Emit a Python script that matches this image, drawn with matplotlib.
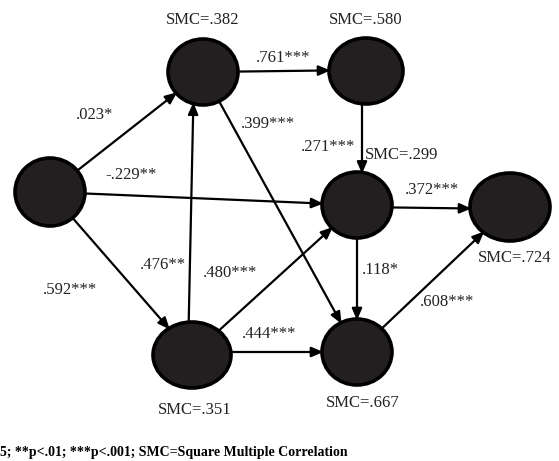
import matplotlib.pyplot as plt
from matplotlib.patches import Ellipse

plt.rcParams['font.family'] = ['Liberation Serif', 'DejaVu Serif']

# nodes and their squared multiple correlations (None = exogenous)
nodes = ['A', 'B', 'C', 'D', 'E', 'F', 'G']
smc = [None, '.382', '.580', '.299', '.724', '.351', '.667']

# paths: source, target, coefficient, significance stars
src = ['A', 'A', 'A', 'B', 'B', 'F', 'F', 'F', 'C', 'D', 'D', 'G']
dst = ['B', 'D', 'F', 'C', 'G', 'B', 'D', 'G', 'D', 'E', 'G', 'E']
coef = ['.023', '-.229', '.592', '.761', '.399', '.476', '.480', '.444',
        '.271', '.372', '.118', '.608']
stars = ['*', '**', '***', '***', '***', '**', '***', '***',
         '***', '***', '*', '***']

# layout (pixels)
pos = {'A': (50, 192), 'B': (203, 72), 'C': (366, 71), 'D': (357, 205),
       'E': (510, 207), 'F': (192, 355), 'G': (357, 352)}
rad = {'A': (35, 34), 'B': (35, 33), 'C': (37, 33), 'D': (35, 33),
       'E': (40, 34), 'F': (39, 33), 'G': (35, 33)}
# anchor shifts so some paths run straight across/down
shift_a = {('C', 'D'): (-4, 0), ('F', 'B'): (-4, 0), ('D', 'E'): (0, 2),
           ('F', 'G'): (0, -3), ('B', 'C'): (0, 0)}
shift_b = {('C', 'D'): (5, 0), ('F', 'B'): (-9, 0), ('D', 'E'): (0, 2),
           ('F', 'G'): (0, 0), ('B', 'C'): (0, -1)}
smc_xy = {'B': (203, 20), 'C': (366, 20), 'D': (402, 155), 'E': (515, 258),
          'F': (195, 410), 'G': (363, 403)}
lab_xy = [(95, 115), (131, 175), (70, 290), (283, 58), (268, 124),
          (163, 265), (230, 273), (269, 334), (328, 147), (432, 190),
          (380, 270), (447, 302)]

fig = plt.figure(figsize=(5.59, 4.61), dpi=100)
ax = fig.add_axes([0, 0, 1, 1])
ax.set_xlim(0, 559)
ax.set_ylim(461, 0)
ax.axis('off')

patches = {}
for n in nodes:
    (x, y), (rx, ry) = pos[n], rad[n]
    e = Ellipse((x, y), 2 * rx, 2 * ry, facecolor='#231f20',
                edgecolor='black', lw=2.6, zorder=3)
    ax.add_patch(e)
    patches[n] = e

for s, d in zip(src, dst):
    sx, sy = shift_a.get((s, d), (0, 0))
    dx, dy = shift_b.get((s, d), (0, 0))
    ax.annotate('', xy=(pos[d][0] + dx, pos[d][1] + dy),
                xytext=(pos[s][0] + sx, pos[s][1] + sy),
                arrowprops=dict(arrowstyle='-|>,head_length=0.7,head_width=0.3',
                                color='black', lw=1.6, shrinkA=0, shrinkB=0,
                                patchA=patches[s], patchB=patches[d]),
                zorder=2)

for c, st, (x, y) in zip(coef, stars, lab_xy):
    ax.text(x, y, c + st, ha='center', va='center', fontsize=12, color='#222222')

for n, v in zip(nodes, smc):
    if v is None:
        continue
    x, y = smc_xy[n]
    ax.text(x, y, 'SMC=' + v, ha='center', va='center', fontsize=12,
            color='#222222')

ax.text(0, 452, '5; **p<.01; ***p<.001; SMC=Square Multiple Correlation',
        ha='left', va='center', fontsize=10, fontweight='bold')

fig.savefig('out.png', dpi=100)
